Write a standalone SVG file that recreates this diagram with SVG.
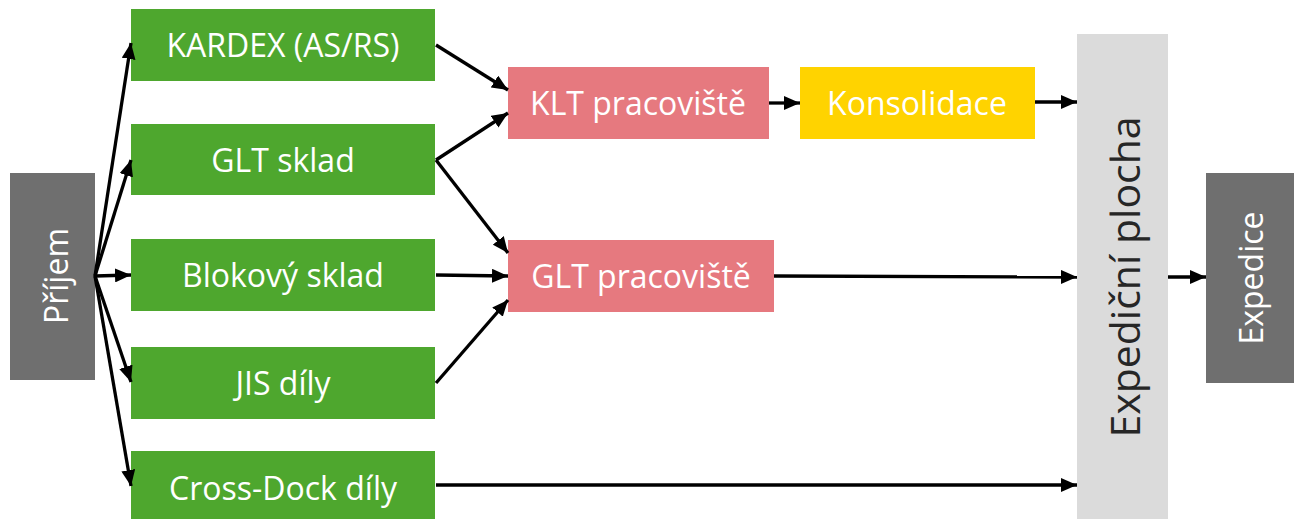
<svg xmlns="http://www.w3.org/2000/svg" width="1300" height="519" viewBox="0 0 1300 519">
  <defs>
    <marker id="arrow" viewBox="0 0 16 14" refX="16" refY="7" markerWidth="16" markerHeight="14" markerUnits="userSpaceOnUse" orient="auto">
      <path d="M0,0 L16,7 L0,14 Z" fill="#000"/>
    </marker>
    <style>
      .green { fill: #4EA72E; }
      .pink { fill: #E6797F; }
      .yellow { fill: #FFD300; }
      .dark { fill: #6F6F6F; }
      .light { fill: #DBDBDB; }
      .label { font-family: "Open Sans", "Liberation Sans", sans-serif; font-size: 32px; fill: #FFFFFF; text-anchor: middle; dominant-baseline: central; }
      .big { font-family: "Open Sans", "Liberation Sans", sans-serif; font-size: 41px; fill: #262626; text-anchor: middle; dominant-baseline: central; }
      .conn line { stroke: #000; stroke-width: 3.3; marker-end: url(#arrow); }
    </style>
  </defs>

  <rect width="1300" height="519" fill="#FFFFFF"/>

  <g id="prijem">
    <rect class="dark" x="10" y="173" width="85" height="207"/>
    <text class="label" transform="translate(55,276) rotate(-90)">Příjem</text>
  </g>

  <g id="kardex">
    <rect class="green" x="131" y="9" width="304" height="72"/>
    <text class="label" x="283" y="44">KARDEX (AS/RS)</text>
  </g>
  <g id="glt-sklad">
    <rect class="green" x="131" y="124" width="304" height="71"/>
    <text class="label" x="283" y="159">GLT sklad</text>
  </g>
  <g id="blokovy-sklad">
    <rect class="green" x="131" y="239" width="304" height="72"/>
    <text class="label" x="283" y="274">Blokový sklad</text>
  </g>
  <g id="jis-dily">
    <rect class="green" x="131" y="347" width="304" height="72"/>
    <text class="label" x="283" y="382">JIS díly</text>
  </g>
  <g id="cross-dock">
    <rect class="green" x="131" y="451" width="304" height="69"/>
    <text class="label" x="283" y="487">Cross-Dock díly</text>
  </g>

  <g id="klt-pracoviste">
    <rect class="pink" x="508" y="67" width="261" height="72"/>
    <text class="label" x="638" y="102">KLT pracoviště</text>
  </g>
  <g id="glt-pracoviste">
    <rect class="pink" x="508" y="240" width="266" height="72"/>
    <text class="label" x="641" y="275">GLT pracoviště</text>
  </g>

  <g id="konsolidace">
    <rect class="yellow" x="800" y="67" width="235" height="72"/>
    <text class="label" x="917" y="102">Konsolidace</text>
  </g>

  <g id="expedicni-plocha">
    <rect class="light" x="1077" y="34" width="91" height="485"/>
    <text class="big" transform="translate(1124,277) rotate(-90)">Expediční plocha</text>
  </g>

  <g id="expedice">
    <rect class="dark" x="1206" y="173" width="88" height="210"/>
    <text class="label" transform="translate(1250,278) rotate(-90)">Expedice</text>
  </g>

  <g id="connectors" class="conn">
    <line x1="95" y1="276" x2="131" y2="43"/>
    <line x1="95" y1="276" x2="131" y2="160"/>
    <line x1="95" y1="276" x2="131" y2="275"/>
    <line x1="95" y1="276" x2="131" y2="382"/>
    <line x1="95" y1="276" x2="131" y2="486"/>

    <line x1="436" y1="45" x2="508" y2="90"/>
    <line x1="436" y1="160" x2="508" y2="113"/>
    <line x1="436" y1="160" x2="508" y2="253"/>
    <line x1="436" y1="275" x2="508" y2="276"/>
    <line x1="436" y1="383" x2="508" y2="300"/>

    <line x1="769" y1="103" x2="800" y2="103"/>
    <line x1="1035" y1="102" x2="1077" y2="102"/>
    <line x1="774" y1="276" x2="1077" y2="277"/>
    <line x1="436" y1="485" x2="1077" y2="485"/>
    <line x1="1168" y1="277" x2="1206" y2="277"/>
  </g>
</svg>
